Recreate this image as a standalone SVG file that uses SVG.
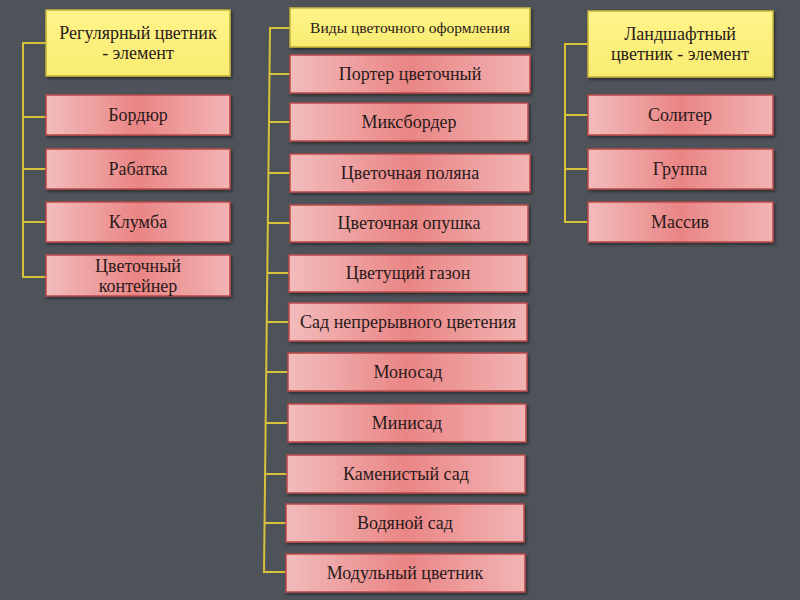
<svg xmlns="http://www.w3.org/2000/svg" width="800" height="600" viewBox="0 0 800 600">
<style>
.r{fill:url(#rg);stroke:#b94a48;stroke-width:1.5;filter:url(#sh)}
.y{fill:url(#yg);stroke:#c9b43a;stroke-width:1.5;filter:url(#sh)}
text{font-size:18px;fill:#2a1a1a;text-anchor:middle}
.c{fill:none;stroke:#d8c23c;stroke-width:2}
</style>
<defs>
<linearGradient id="rg" x1="0" x2="1" y1="0" y2="0">
<stop offset="0" stop-color="#f2bcbc"/><stop offset="0.5" stop-color="#ea8585"/><stop offset="1" stop-color="#f2b4b4"/>
</linearGradient>
<linearGradient id="yg" x1="0" x2="0" y1="0" y2="1">
<stop offset="0" stop-color="#fff48a"/><stop offset="1" stop-color="#f8ec70"/>
</linearGradient>
<filter id="sh" x="-10%" y="-20%" width="130%" height="150%">
<feDropShadow dx="1.5" dy="2" stdDeviation="1.5" flood-color="#000" flood-opacity="0.45"/>
</filter>
</defs>
<rect width="800" height="600" fill="#4e535a"/>
<g id="connectors">
<path class="c" d="M46 43H23V277H46M23 117H46M23 169H46M23 222H46"/>
<path class="c" d="M290 28H270L264 572H286M269 74H290M269 122H290M268 173H290M268 223H290M268 273H289M267 322H289M267 372H288M266 423H288M266 474H287M265 523H286"/>
<path class="c" d="M588 44H565V222H588M565 115H588M565 169H588"/>
</g>
<g font-family="'Liberation Serif', 'Times New Roman', 'DejaVu Serif', serif">
<g id="n-reg"><rect class="y" x="46" y="10" width="184" height="66"/><text x="138" y="39">Регулярный цветник</text><text x="138" y="59">- элемент</text></g>
<g id="n-bordur"><rect class="r" x="46" y="95" width="184" height="40"/><text x="138" y="121">Бордюр</text></g>
<g id="n-rabatka"><rect class="r" x="46" y="149" width="184" height="40"/><text x="138" y="175">Рабатка</text></g>
<g id="n-klumba"><rect class="r" x="46" y="202" width="184" height="40"/><text x="138" y="228">Клумба</text></g>
<g id="n-kont"><rect class="r" x="46" y="255" width="184" height="41"/><text x="138" y="272">Цветочный</text><text x="138" y="292">контейнер</text></g>

<g id="n-vidy"><rect class="y" x="290" y="8" width="240" height="39"/><text x="410" y="33" style="font-size:15.5px">Виды цветочного оформления</text></g>
<g id="n-porter"><rect class="r" x="290" y="55" width="240" height="38"/><text x="410" y="80">Портер цветочный</text></g>
<g id="n-miks"><rect class="r" x="290" y="103" width="238" height="38"/><text x="409" y="128">Миксбордер</text></g>
<g id="n-polyana"><rect class="r" x="290" y="154" width="240" height="38"/><text x="410" y="179">Цветочная поляна</text></g>
<g id="n-opushka"><rect class="r" x="290" y="205" width="238" height="37"/><text x="409" y="229">Цветочная опушка</text></g>
<g id="n-gazon"><rect class="r" x="289" y="255" width="238" height="37"/><text x="408" y="279">Цветущий газон</text></g>
<g id="n-sad"><rect class="r" x="289" y="303" width="238" height="38"/><text x="408" y="328">Сад непрерывного цветения</text></g>
<g id="n-mono"><rect class="r" x="288" y="353" width="239" height="38"/><text x="408" y="378">Моносад</text></g>
<g id="n-mini"><rect class="r" x="288" y="404" width="238" height="38"/><text x="407" y="429">Минисад</text></g>
<g id="n-kamen"><rect class="r" x="287" y="455" width="238" height="38"/><text x="406" y="480">Каменистый сад</text></g>
<g id="n-vod"><rect class="r" x="286" y="504" width="238" height="38"/><text x="405" y="529">Водяной сад</text></g>
<g id="n-modul"><rect class="r" x="286" y="554" width="239" height="38"/><text x="405" y="579">Модульный цветник</text></g>

<g id="n-land"><rect class="y" x="588" y="11" width="185" height="66"/><text x="680" y="40">Ландшафтный</text><text x="680" y="60">цветник - элемент</text></g>
<g id="n-soliter"><rect class="r" x="588" y="95" width="185" height="40"/><text x="680" y="121">Солитер</text></g>
<g id="n-gruppa"><rect class="r" x="588" y="149" width="185" height="40"/><text x="680" y="175">Группа</text></g>
<g id="n-massiv"><rect class="r" x="588" y="202" width="185" height="40"/><text x="680" y="228">Массив</text></g>
</g>
</svg>
